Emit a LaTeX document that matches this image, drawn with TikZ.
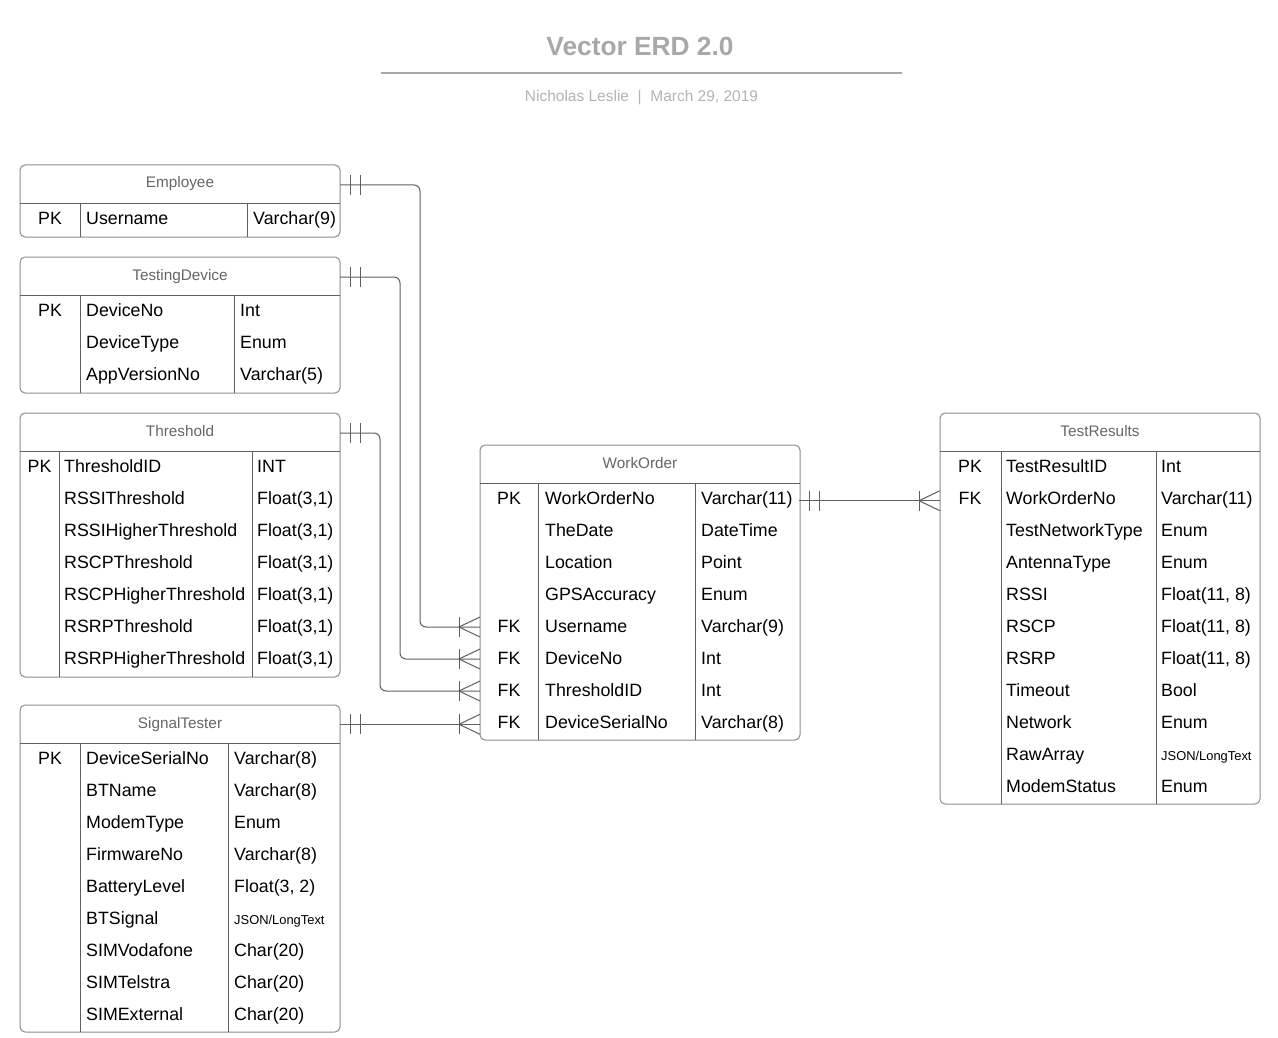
\documentclass[tikz,border=0pt]{standalone}
\usepackage{fontspec}
\setmainfont{Liberation Sans}
\usetikzlibrary{calc}
\definecolor{bordc}{HTML}{8C8C8C}
\definecolor{gridc}{HTML}{606060}
\definecolor{connc}{HTML}{606060}
\definecolor{hdrc}{HTML}{666666}
\definecolor{titlec}{HTML}{A8A8A8}
\definecolor{subc}{HTML}{B4B4B4}
\newcommand\cellf{\fontsize{17.8pt}{20pt}\selectfont}
\newcommand\hdrf{\fontsize{15.3pt}{18pt}\selectfont}
\newcommand\titlef{\fontsize{26.3pt}{30pt}\selectfont\bfseries}
\newcommand\subf{\fontsize{15.5pt}{18pt}\selectfont}
\newcommand\smallf{\fontsize{12.9pt}{15pt}\selectfont}
% #1 name, #2 left x, #3 top y, #4 bottom y, #5 header-line y, #6 col1 x, #7 col2 x, #8 title
\newcommand\erdtable[8]{%
  \node[tbl, minimum height={#4pt-#3pt}] (#1) at (#2,#3) {};
  \node[hdr] (#1-title) at ({#2+160},{#3+23}) {#8};
  \draw[grid] (#2,#5) -- ({#2+320},#5) (#6,#5) -- (#6,#4) (#7,#5) -- (#7,#4);
}
% #1 name, #2 key x, #3 name x, #4 type x, #5 first row centre y, #6 list
\newcommand\erdrows[6]{%
  \foreach \k/\n/\t [count=\i] in {#6} {
    \node[keyc] (#1-k\i) at (#2,{#5+32*(\i-1)+6.5}) {\k};
    \node[namec] (#1-n\i) at (#3,{#5+32*(\i-1)+6.5}) {\n};
    \node[namec] (#1-t\i) at (#4,{#5+32*(\i-1)+6.5}) {\t};
  }
}
\newcommand\onebar[1]{\draw[conn] ($(#1)+(10,-10)$) -- ($(#1)+(10,10)$) ($(#1)+(20,-10)$) -- ($(#1)+(20,10)$);}
\newcommand\crowL[1]{\draw[conn] ($(#1)+(-21,-10)$) -- ($(#1)+(-21,10)$); \draw[conn] ($(#1)+(0,-10)$) -- ($(#1)+(-21,0)$) -- ($(#1)+(0,10)$);}
\begin{document}
\begin{tikzpicture}[x=1pt,y=-1pt,
  tbl/.style={draw=bordc, line width=1pt, rounded corners=5pt, minimum width=320pt, anchor=north west, inner sep=0pt, outer sep=0pt},
  hdr/.style={font=\hdrf, text=hdrc, anchor=base, inner sep=0pt},
  keyc/.style={font=\cellf, anchor=base, inner sep=0pt},
  namec/.style={font=\cellf, anchor=base west, inner sep=0pt},
  grid/.style={draw=gridc, line width=0.9pt},
  conn/.style={draw=connc, line width=1pt},
]
\fill[white] (0,0) rectangle (1278,1038);
\useasboundingbox (0,0) rectangle (1278,1038);

% title
\node[font=\titlef, text=titlec, anchor=base, inner sep=0pt] (title) at (640,55.5) {Vector ERD 2.0};
\draw[titlec, line width=2pt] (381,72.7) -- (902,72.7);
\node[font=\subf, text=subc, anchor=base, inner sep=0pt] (sub) at (641.5,101.5) {Nicholas Leslie\ \ |\ \ March 29, 2019};

% tables
\erdtable{emp}{20}{165}{237}{203}{80}{247}{Employee}
\erdrows{emp}{50}{86}{253}{218}{PK/Username/{Varchar(9)}}

\erdtable{dev}{20}{257}{393}{295}{80}{234}{TestingDevice}
\erdrows{dev}{50}{86}{240}{310}{PK/DeviceNo/Int, /DeviceType/Enum, /AppVersionNo/{Varchar(5)}}

\erdtable{thr}{20}{413}{677}{451}{59}{252}{Threshold}
\erdrows{thr}{39.5}{64}{257}{466}{PK/ThresholdID/INT, /RSSIThreshold/{Float(3,1)}, /RSSIHigherThreshold/{Float(3,1)}, /RSCPThreshold/{Float(3,1)}, /RSCPHigherThreshold/{Float(3,1)}, /RSRPThreshold/{Float(3,1)}, /RSRPHigherThreshold/{Float(3,1)}}

\erdtable{sig}{20}{705}{1032}{743}{80}{228}{SignalTester}
\erdrows{sig}{50}{86}{234}{758}{PK/DeviceSerialNo/{Varchar(8)}, /BTName/{Varchar(8)}, /ModemType/Enum, /FirmwareNo/{Varchar(8)}, /BatteryLevel/{Float(3, 2)}, /BTSignal/{\smallf JSON/LongText}, /SIMVodafone/{Char(20)}, /SIMTelstra/{Char(20)}, /SIMExternal/{Char(20)}}

\erdtable{wo}{480}{445}{740}{483}{538}{695}{WorkOrder}
\erdrows{wo}{509}{545}{701}{498}{PK/WorkOrderNo/{Varchar(11)}, /TheDate/DateTime, /Location/Point, /GPSAccuracy/Enum, FK/Username/{Varchar(9)}, FK/DeviceNo/Int, FK/ThresholdID/Int, FK/DeviceSerialNo/{Varchar(8)}}

\erdtable{tr}{940}{413}{804}{451}{1001}{1156}{TestResults}
\erdrows{tr}{970}{1006}{1161}{466}{PK/TestResultID/Int, FK/WorkOrderNo/{Varchar(11)}, /TestNetworkType/Enum, /AntennaType/Enum, /RSSI/{Float(11, 8)}, /RSCP/{Float(11, 8)}, /RSRP/{Float(11, 8)}, /Timeout/Bool, /Network/Enum, /RawArray/{\smallf JSON/LongText}, /ModemStatus/Enum}

% connector end points
\coordinate (empR) at (340,185);
\coordinate (devR) at (340,277);
\coordinate (thrR) at (340,433);
\coordinate (sigR) at (340,724.3);
\coordinate (woF5) at (480,627);
\coordinate (woF6) at (480,659);
\coordinate (woF7) at (480,691);
\coordinate (woF8) at (480,724.3);
\coordinate (woR) at (799,500.7);
\coordinate (trL) at (940,500.7);

% connectors
\draw[conn, rounded corners=6pt] (empR) -- ++(80,0) |- (woF5);
\draw[conn, rounded corners=6pt] (devR) -- ++(60,0) |- (woF6);
\draw[conn, rounded corners=6pt] (thrR) -- ++(40,0) |- (woF7);
\draw[conn] (sigR) -- (woF8);
\draw[conn] (woR) -- (trL);

\onebar{empR} \onebar{devR} \onebar{thrR} \onebar{sigR} \onebar{woR}
\crowL{woF5} \crowL{woF6} \crowL{woF7} \crowL{woF8} \crowL{trL}
\end{tikzpicture}
\end{document}
